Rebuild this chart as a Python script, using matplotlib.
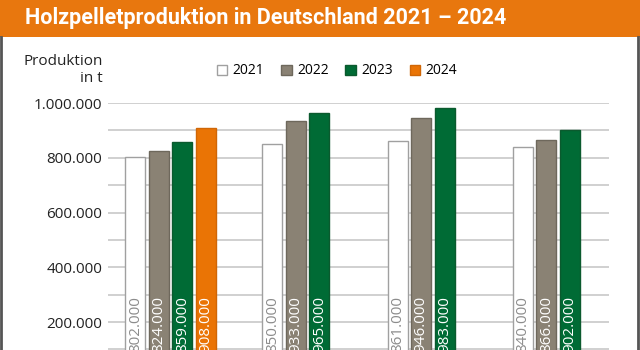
import matplotlib
matplotlib.use("Agg")
from matplotlib import pyplot as plt
from matplotlib.patches import Patch, Rectangle
from matplotlib.lines import Line2D
import numpy as np

plt.rcParams['font.family'] = ['Open Sans', 'DejaVu Sans']

# data
categories = ["1. Quartal", "2. Quartal", "3. Quartal", "4. Quartal"]
years = ["2021", "2022", "2023", "2024"]
prod_2021 = [802000, 850000, 861000, 840000]
prod_2022 = [824000, 933000, 946000, 866000]
prod_2023 = [859000, 965000, 983000, 902000]
prod_2024 = [908000, None, None, None]
series = [prod_2021, prod_2022, prod_2023, prod_2024]

face = ['#FFFFFF', '#8A8274', '#006B35', '#EA7405']
edge = ['#A0A0A0', '#6E685C', '#0B5A2E', '#D06606']
label_col = ['#8C8C8C', 'white', 'white', 'white']

def fmt(v):
    return f"{int(v):,}".replace(",", ".")

fig = plt.figure(figsize=(6.4, 3.5), dpi=100)

# orange title banner
fig.add_artist(Rectangle((0, 1 - 37/350), 1, 37/350, transform=fig.transFigure,
                         facecolor='#E8770E', edgecolor='none'))
fig.text(25/640, 1 - 18/350, "Holzpelletproduktion in Deutschland 2021 – 2024",
         color='white', fontsize=15.5, fontweight='bold', ha='left', va='center',
         family=['Roboto', 'DejaVu Sans'])
# side borders
for xb in (1/640, 638/640):
    fig.add_artist(Line2D([xb, xb], [0, 1 - 37/350], transform=fig.transFigure,
                          color='#555555', lw=2))

ax = fig.add_axes([108/640, -0.0766, 501/640, 0.7823])

step = 0.188
width = 0.16
x = np.arange(len(categories))
for ci in range(len(categories)):
    present = [si for si in range(len(series)) if series[si][ci] is not None]
    n = len(present)
    for k, si in enumerate(present):
        v = series[si][ci]
        xpos = x[ci] + (k - (n - 1) / 2) * step
        ax.bar(xpos, v, width=width, color=face[si], edgecolor=edge[si], linewidth=1)
        ax.text(xpos, 92000, fmt(v), rotation=90, ha='center', va='bottom',
                color=label_col[si], fontsize=11)

ax.set_xlim(-0.5, len(categories) - 0.5)
ax.set_ylim(0, 1000000)
ax.set_yticks(np.arange(200000, 1000001, 200000))
ax.set_yticks(np.arange(100000, 1000001, 200000), minor=True)
ax.set_yticklabels([fmt(v) for v in np.arange(200000, 1000001, 200000)])
ax.set_xticks(x)
ax.set_xticklabels(categories)
ax.tick_params(axis='y', length=0, pad=4, labelsize=11, colors='#222222', which='both')
ax.tick_params(axis='x', length=0, labelbottom=False)
ax.grid(axis='y', which='both', color='#C8C8C8', lw=1.2)
ax.set_axisbelow(True)
for s in ax.spines.values():
    s.set_visible(False)

fig.text(103/640, 1 - 70/350, "Produktion\nin t", ha='right', va='center',
         fontsize=11, color='#222222', linespacing=1.25)

handles = [Patch(facecolor=face[i], edgecolor=edge[i], label=years[i]) for i in range(4)]
fig.legend(handles=handles, loc='center', bbox_to_anchor=(337/640, 1 - 71/350),
           ncol=4, frameon=False, fontsize=10, handlelength=0.75, handleheight=0.75,
           handletextpad=0.4, columnspacing=1.2)

fig.savefig("out.png", dpi=100)
